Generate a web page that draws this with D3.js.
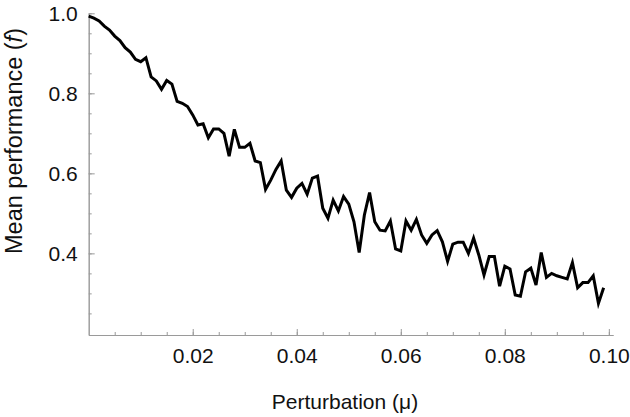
<!DOCTYPE html>
<html>
<head>
<meta charset="utf-8">
<script src="https://cdn.jsdelivr.net/npm/d3@7"></script>
<style>
  body { margin: 0; background: #fff; }
  svg text { font-family: "Liberation Sans", Arial, sans-serif; fill: #111; }
</style>
</head>
<body>
<div id="chart"></div>
<script>
// perturbation values (x) and mean performance (y)
var perturbation = [
  0.000, 0.001, 0.002, 0.003, 0.004, 0.005, 0.006, 0.007, 0.008, 0.009,
  0.010, 0.011, 0.012, 0.013, 0.014, 0.015, 0.016, 0.017, 0.018, 0.019,
  0.020, 0.021, 0.022, 0.023, 0.024, 0.025, 0.026, 0.027, 0.028, 0.029,
  0.030, 0.031, 0.032, 0.033, 0.034, 0.035, 0.036, 0.037, 0.038, 0.039,
  0.040, 0.041, 0.042, 0.043, 0.044, 0.045, 0.046, 0.047, 0.048, 0.049,
  0.050, 0.051, 0.052, 0.053, 0.054, 0.055, 0.056, 0.057, 0.058, 0.059,
  0.060, 0.061, 0.062, 0.063, 0.064, 0.065, 0.066, 0.067, 0.068, 0.069,
  0.070, 0.071, 0.072, 0.073, 0.074, 0.075, 0.076, 0.077, 0.078, 0.079,
  0.080, 0.081, 0.082, 0.083, 0.084, 0.085, 0.086, 0.087, 0.088, 0.089,
  0.090, 0.091, 0.092, 0.093, 0.094, 0.095, 0.096, 0.097, 0.098, 0.099
];
var performance = [
  0.993, 0.988, 0.981, 0.968, 0.958, 0.943, 0.932, 0.914, 0.903, 0.885,
  0.879, 0.889, 0.841, 0.831, 0.810, 0.832, 0.823, 0.780, 0.775, 0.767,
  0.746, 0.721, 0.724, 0.689, 0.711, 0.711, 0.700, 0.643, 0.710, 0.665,
  0.665, 0.675, 0.631, 0.627, 0.560, 0.583, 0.610, 0.631, 0.558, 0.540,
  0.563, 0.575, 0.548, 0.588, 0.593, 0.513, 0.488, 0.533, 0.506, 0.542,
  0.523, 0.479, 0.402, 0.496, 0.552, 0.479, 0.458, 0.456, 0.481, 0.411,
  0.406, 0.481, 0.458, 0.485, 0.446, 0.425, 0.446, 0.457, 0.429, 0.380,
  0.423, 0.428, 0.428, 0.400, 0.438, 0.396, 0.346, 0.392, 0.392, 0.318,
  0.368, 0.361, 0.296, 0.293, 0.354, 0.363, 0.321, 0.402, 0.340, 0.350,
  0.344, 0.340, 0.336, 0.377, 0.314, 0.327, 0.327, 0.344, 0.275, 0.314
];

var xMajor = [0.02, 0.04, 0.06, 0.08, 0.10];
var yMajor = [0.4, 0.6, 0.8, 1.0];
var xMinor = d3.range(1, 21).map(function(k) { return k * 0.005; });
var yMinor = d3.range(5, 21).map(function(k) { return k * 0.05; });

var width = 630, height = 417;

var svg = d3.select('#chart')
    .append('svg')
    .attr('width', width)
    .attr('height', height);

var x = d3.scaleLinear().domain([0, 0.1008]).range([88.7, 613]);
var y = d3.scaleLinear().domain([0.196, 1.0]).range([335, 13.3]);

// minor ticks
svg.append('g')
    .attr('class', 'x minor')
    .attr('transform', 'translate(0,' + y(0.196) + ')')
    .call(d3.axisBottom(x).tickValues(xMinor).tickSize(-3).tickSizeOuter(0).tickFormat(''));
svg.append('g')
    .attr('class', 'y minor')
    .attr('transform', 'translate(' + x(0) + ',0)')
    .call(d3.axisLeft(y).tickValues(yMinor).tickSize(-3).tickSizeOuter(0).tickFormat(''));

// major ticks + labels
svg.append('g')
    .attr('class', 'x major')
    .attr('transform', 'translate(0,' + y(0.196) + ')')
    .call(d3.axisBottom(x).tickValues(xMajor).tickSize(-6).tickSizeOuter(0)
        .tickPadding(13).tickFormat(d3.format('.2f')));
svg.append('g')
    .attr('class', 'y major')
    .attr('transform', 'translate(' + x(0) + ',0)')
    .call(d3.axisLeft(y).tickValues(yMajor).tickSize(-6).tickSizeOuter(0)
        .tickPadding(11).tickFormat(d3.format('.1f')));

svg.selectAll('.domain, .tick line')
    .attr('stroke', '#9a9a9a')
    .attr('stroke-width', 1);
svg.selectAll('.tick text')
    .attr('font-size', 21)
    .attr('fill', '#111');

// the curve
var line = d3.line()
    .x(function(d) { return x(d[0]); })
    .y(function(d) { return y(d[1]); });

svg.append('path')
    .datum(d3.zip(perturbation, performance))
    .attr('d', line)
    .attr('fill', 'none')
    .attr('stroke', '#000')
    .attr('stroke-width', 3)
    .attr('stroke-linejoin', 'miter');

// axis titles
svg.append('text')
    .attr('x', 345)
    .attr('y', 409)
    .attr('text-anchor', 'middle')
    .attr('font-size', 21)
    .text('Perturbation (μ)');

var yl = svg.append('text')
    .attr('transform', 'translate(22,141) rotate(-90)')
    .attr('text-anchor', 'middle')
    .attr('font-size', 23.5);
yl.append('tspan').text('Mean performance (');
yl.append('tspan').attr('font-style', 'italic').text('f');
yl.append('tspan').text(')');
</script>
</body>
</html>
